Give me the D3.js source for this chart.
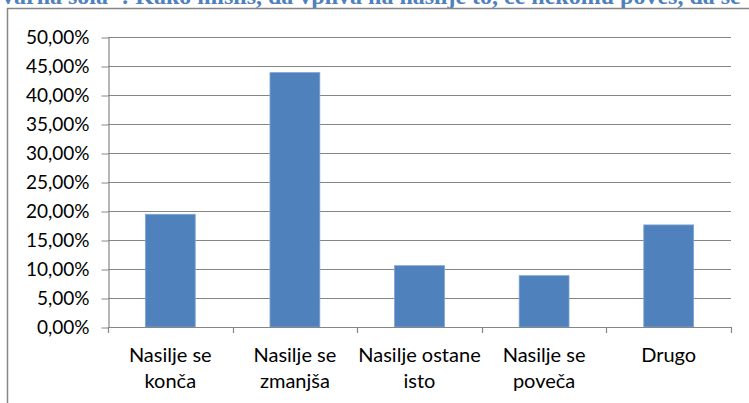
<!DOCTYPE html>
<html>
<head>
<meta charset="utf-8">
<script src="https://cdn.jsdelivr.net/npm/d3@7"></script>
<style>
  html, body { margin: 0; padding: 0; background: #fff; }
  svg { display: block; }
</style>
</head>
<body>
<svg id="chart" width="749" height="403"></svg>
<script>
// Survey answers: effect on violence of telling someone about it
const categories = [
  ["Nasilje se", "konča"],
  ["Nasilje se", "zmanjša"],
  ["Nasilje ostane", "isto"],
  ["Nasilje se", "poveča"],
  ["Drugo"]
];
const values = [0.1943, 0.4386, 0.1057, 0.0885, 0.1760];
const yTicks = [0, 0.05, 0.10, 0.15, 0.20, 0.25, 0.30, 0.35, 0.40, 0.45, 0.50];
const titleText = "varna šola\": Kako misliš, da vpliva na nasilje to, če nekomu poveš, da se";

const svg = d3.select("#chart");
const gray = "#868686";
const labelFont = "Lato, 'Open Sans', sans-serif";

// heading line, clipped by the top of the page
svg.append("text")
  .attr("x", 2).attr("y", 4)
  .attr("font-family", "'Liberation Serif', 'DejaVu Serif', serif")
  .attr("font-weight", "bold")
  .attr("font-size", 24)
  .attr("fill", "#4F81BD")
  .text(titleText);

// chart frame (left and top edges)
svg.append("path")
  .attr("d", "M7.5,403 V8.5 H749")
  .attr("fill", "none")
  .attr("stroke", gray)
  .attr("stroke-width", 1.5);

const x = d3.scaleBand()
  .domain(d3.range(categories.length))
  .range([108, 731])
  .paddingInner(0.6)
  .paddingOuter(0.3);

const y = d3.scaleLinear().domain([0, 0.5]).range([327, 37]);

const fmt = v => (v * 100).toFixed(2).replace(".", ",") + "%";

// horizontal gridlines
svg.append("g")
  .selectAll("line")
  .data(yTicks.slice(1))
  .join("line")
  .attr("x1", 108).attr("x2", 731)
  .attr("y1", d => Math.round(y(d)) + 0.5)
  .attr("y2", d => Math.round(y(d)) + 0.5)
  .attr("stroke", gray)
  .attr("stroke-width", 1);

// y axis
const yAxis = svg.append("g")
  .attr("transform", "translate(108.5,0.5)")
  .call(d3.axisLeft(y).tickValues(yTicks).tickFormat(fmt).tickSize(7).tickSizeOuter(0));
yAxis.select(".domain").attr("stroke", gray).attr("stroke-width", 1.2);
yAxis.selectAll(".tick line").attr("stroke", gray);
yAxis.selectAll(".tick text")
  .attr("x", -19)
  .attr("fill", "#000")
  .attr("font-family", labelFont)
  .attr("font-size", 19);

// bars
svg.append("g")
  .selectAll("rect")
  .data(values)
  .join("rect")
  .attr("x", (d, i) => x(i))
  .attr("y", d => y(d))
  .attr("width", x.bandwidth())
  .attr("height", d => y(0) - y(d))
  .attr("fill", "#4F81BD")
  .attr("stroke", "#7FA3D3")
  .attr("stroke-width", 0.8);

// x axis with tick marks at category boundaries
const bounds = d3.range(categories.length + 1).map(i => 108 + i * x.step());
svg.append("line")
  .attr("x1", 108).attr("x2", 731)
  .attr("y1", 327.5).attr("y2", 327.5)
  .attr("stroke", gray).attr("stroke-width", 1.2);
svg.append("g")
  .selectAll("line")
  .data(bounds)
  .join("line")
  .attr("x1", d => Math.round(d) + 0.5).attr("x2", d => Math.round(d) + 0.5)
  .attr("y1", 327).attr("y2", 333)
  .attr("stroke", gray).attr("stroke-width", 1.2);

// category labels (wrapped)
const catG = svg.append("g")
  .attr("font-family", labelFont)
  .attr("font-size", 20)
  .attr("text-anchor", "middle")
  .attr("fill", "#000");
categories.forEach((lines, i) => {
  const t = catG.append("text")
    .attr("x", x(i) + x.bandwidth() / 2)
    .attr("y", 362);
  lines.forEach((ln, j) => {
    t.append("tspan")
      .attr("x", x(i) + x.bandwidth() / 2)
      .attr("y", 362 + j * 26)
      .text(ln);
  });
});
</script>
</body>
</html>
